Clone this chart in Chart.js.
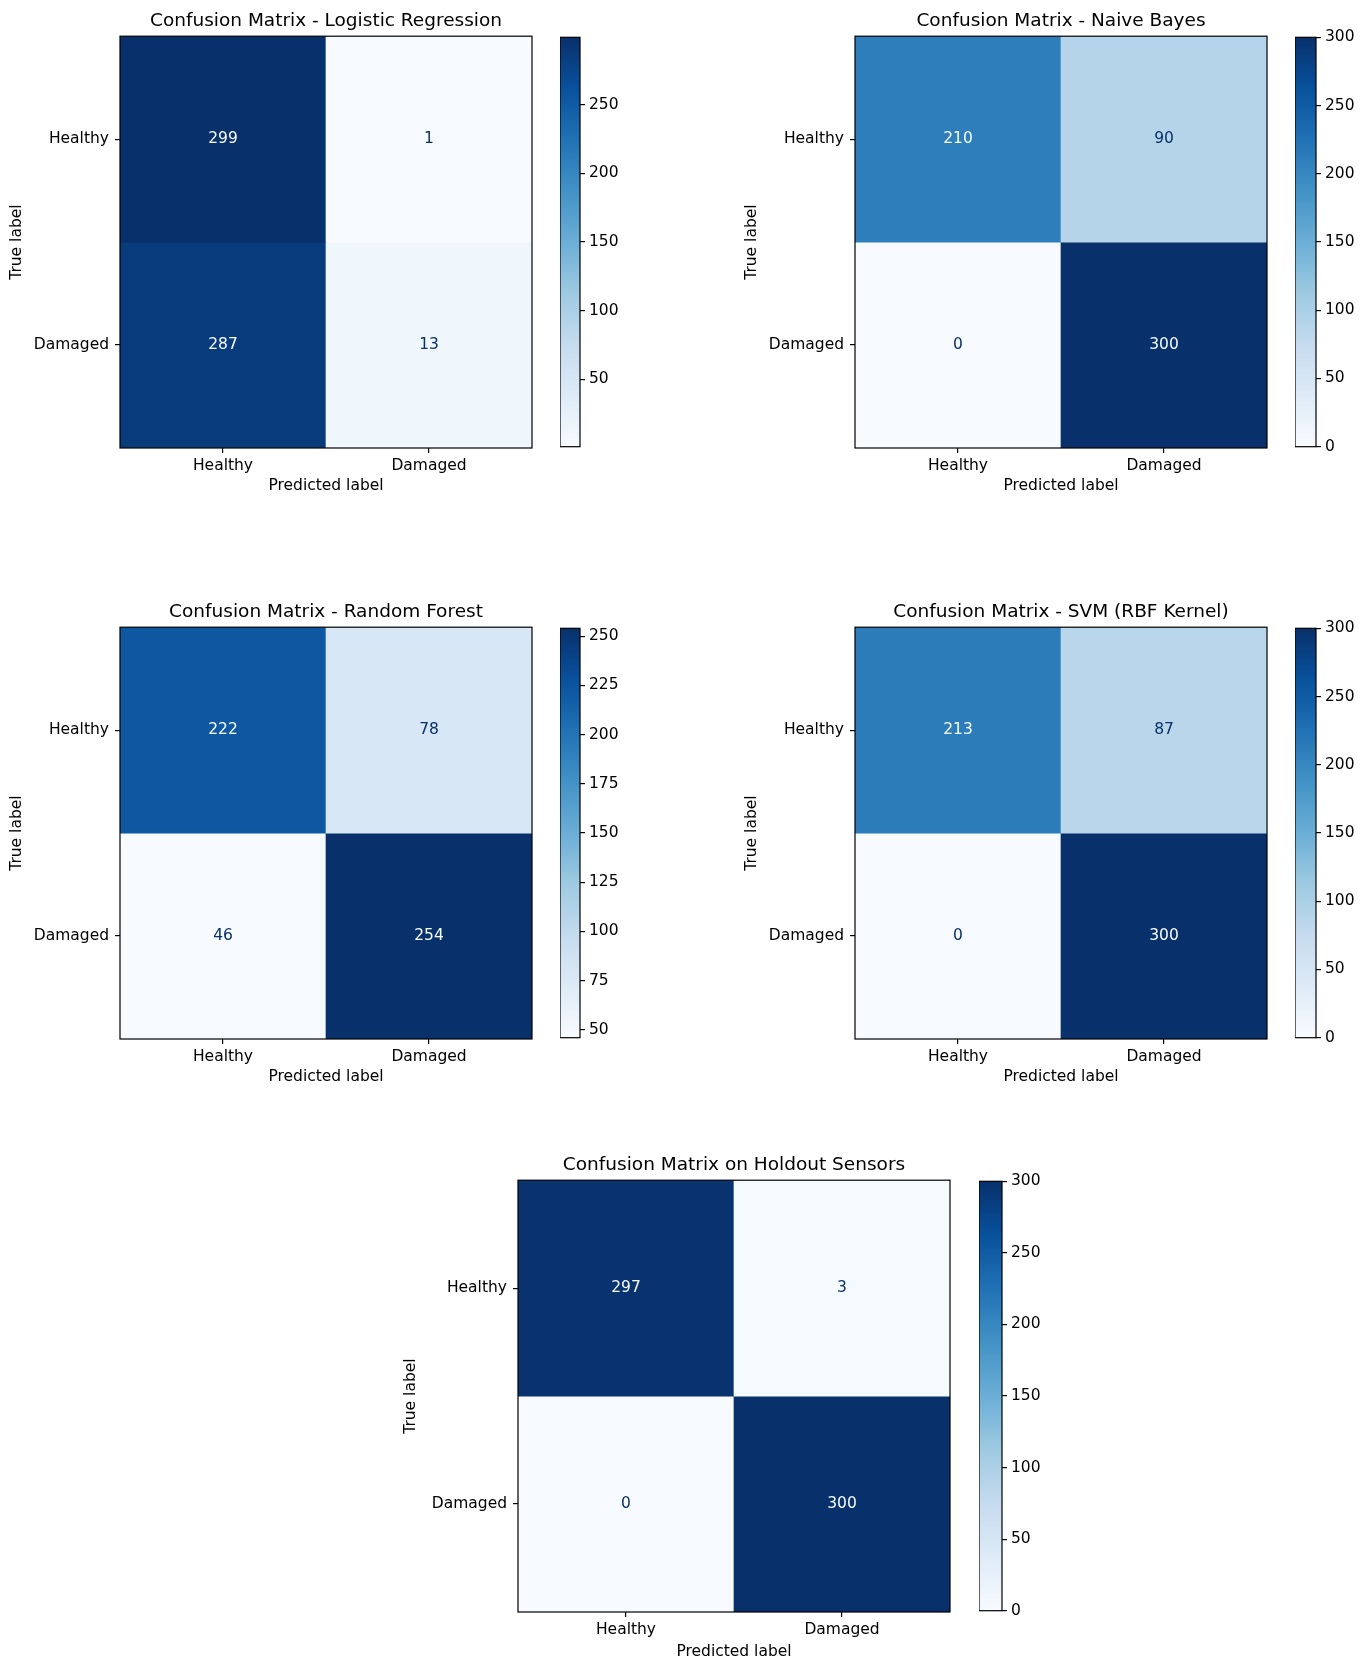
<!DOCTYPE html>
<html>
<head>
  <title>Confusion Matrices</title>
  <script src="https://cdn.jsdelivr.net/npm/chart.js"></script>
  <style>
    body { margin: 0; background: #fff; }
    #page { position: relative; width: 1362px; height: 1665px; }
    #page canvas { position: absolute; }
  </style>
</head>
<body>
  <div id="page"></div>

  <script>
    // axis categories
    const predLabels = ['Healthy', 'Damaged'];
    const trueLabels = ['Healthy', 'Damaged'];

    // confusion matrices, rows = true label, cols = predicted label
    const cmLogReg = [[299, 1], [287, 13]];
    const cmNaiveBayes = [[210, 90], [0, 300]];
    const cmForest = [[222, 78], [46, 254]];
    const cmSvm = [[213, 87], [0, 300]];
    const cmHoldout = [[297, 3], [0, 300]];

    // colorbar tick labels
    const cbTicksLogReg = [50, 100, 150, 200, 250];
    const cbTicksForest = [50, 75, 100, 125, 150, 175, 200, 225, 250];
    const cbTicksFull = [0, 50, 100, 150, 200, 250, 300];

    // matplotlib "Blues" colormap stops
    const blues = ['#f7fbff', '#deebf7', '#c6dbef', '#9ecae1', '#6baed6',
                   '#4292c6', '#2171b5', '#08519c', '#08306b'];

    Chart.defaults.font.family = "'DejaVu Sans', sans-serif";
    Chart.defaults.color = '#000';

    const panels = [
      { title: 'Confusion Matrix - Logistic Regression', cm: cmLogReg, cbTicks: cbTicksLogReg,
        L: 120, T: 36, S: 412, yW: 116, xH: 51, cbX: 560, cbW: 20 },
      { title: 'Confusion Matrix - Naive Bayes', cm: cmNaiveBayes, cbTicks: cbTicksFull,
        L: 855, T: 36, S: 412, yW: 116, xH: 51, cbX: 1295, cbW: 21 },
      { title: 'Confusion Matrix - Random Forest', cm: cmForest, cbTicks: cbTicksForest,
        L: 120, T: 627, S: 412, yW: 116, xH: 51, cbX: 560, cbW: 20 },
      { title: 'Confusion Matrix - SVM (RBF Kernel)', cm: cmSvm, cbTicks: cbTicksFull,
        L: 855, T: 627, S: 412, yW: 116, xH: 51, cbX: 1295, cbW: 21 },
      { title: 'Confusion Matrix on Holdout Sensors', cm: cmHoldout, cbTicks: cbTicksFull,
        L: 518, T: 1180, S: 432, yW: 120, xH: 53, cbX: 979, cbW: 23 }
    ];

    function hexToRgb(h) {
      const n = parseInt(h.slice(1), 16);
      return [(n >> 16) & 255, (n >> 8) & 255, n & 255];
    }

    function bluesAt(t) {
      t = Math.min(1, Math.max(0, t));
      const pos = t * (blues.length - 1);
      const i = Math.min(Math.floor(pos), blues.length - 2);
      const f = pos - i;
      const a = hexToRgb(blues[i]), b = hexToRgb(blues[i + 1]);
      const c = a.map((v, k) => Math.round(v + (b[k] - v) * f));
      return `rgb(${c[0]}, ${c[1]}, ${c[2]})`;
    }

    function makeCanvas(left, top, w, h) {
      const c = document.createElement('canvas');
      c.width = w;
      c.height = h;
      c.style.left = left + 'px';
      c.style.top = top + 'px';
      document.getElementById('page').appendChild(c);
      return c;
    }

    // writes the count in the middle of each cell
    const cellText = {
      id: 'cellText',
      afterDatasetsDraw(chart, args, opts) {
        const { ctx, scales: { x, y } } = chart;
        ctx.save();
        ctx.font = "15.5px 'DejaVu Sans', sans-serif";
        ctx.textAlign = 'center';
        ctx.textBaseline = 'middle';
        opts.cm.forEach((row, i) => {
          row.forEach((v, j) => {
            ctx.fillStyle = v < opts.thresh ? blues[8] : blues[0];
            ctx.fillText(String(v), x.getPixelForValue(j), y.getPixelForValue(i));
          });
        });
        ctx.restore();
      }
    };

    // box around the plot area, like matplotlib spines
    const frame = {
      id: 'frame',
      afterDraw(chart) {
        const { ctx, chartArea: a } = chart;
        ctx.save();
        ctx.strokeStyle = '#000';
        ctx.lineWidth = 1.2;
        ctx.strokeRect(a.left, a.top, a.right - a.left, a.bottom - a.top);
        ctx.restore();
      }
    };

    function tickGrid() {
      return { display: true, drawOnChartArea: false, offset: false, tickLength: 5, color: '#000', lineWidth: 1.2 };
    }

    function drawMatrix(p) {
      const flat = p.cm.flat();
      const vmin = Math.min(...flat);
      const vmax = Math.max(...flat);
      const thresh = (vmin + vmax) / 2;

      const canvas = makeCanvas(p.L - p.yW, p.T - 29, p.yW + p.S + 4, 29 + p.S + p.xH);
      new Chart(canvas, {
        type: 'bar',
        data: {
          labels: predLabels,
          datasets: trueLabels.map((t, i) => ({
            label: t,
            data: predLabels.map(() => [i - 0.5, i + 0.5]),
            backgroundColor: p.cm[i].map(v => bluesAt((v - vmin) / (vmax - vmin))),
            barPercentage: 1,
            categoryPercentage: 1,
            grouped: false,
            borderWidth: 0
          }))
        },
        options: {
          responsive: false,
          animation: false,
          events: [],
          layout: { padding: { left: 0, right: 4, top: 0, bottom: 0 } },
          plugins: {
            legend: { display: false },
            tooltip: { enabled: false },
            title: {
              display: true, text: p.title, fullSize: false, color: '#000',
              font: { size: 18.5, weight: 'normal' }, padding: { top: 3, bottom: 4 }
            },
            cellText: { cm: p.cm, thresh: thresh }
          },
          scales: {
            x: {
              grid: tickGrid(),
              border: { display: false },
              ticks: { font: { size: 15.5 }, padding: 4, maxRotation: 0 },
              title: { display: true, text: 'Predicted label', font: { size: 15.5 }, padding: 4 },
              afterFit: s => { s.height = p.xH; }
            },
            y: {
              type: 'linear', min: -0.5, max: 1.5, reverse: true,
              afterBuildTicks: s => { s.ticks = trueLabels.map((_, i) => ({ value: i })); },
              grid: tickGrid(),
              border: { display: false },
              ticks: { font: { size: 15.5 }, padding: 6, callback: v => trueLabels[v] },
              title: { display: true, text: 'True label', font: { size: 15.5 }, padding: 4 },
              afterFit: s => { s.width = p.yW; }
            }
          }
        },
        plugins: [cellText, frame]
      });

      // colorbar
      const cbCanvas = makeCanvas(p.cbX, p.T - 12, p.cbW + 50, p.S + 24);
      new Chart(cbCanvas, {
        type: 'bar',
        data: {
          labels: [''],
          datasets: [{
            data: [[vmin, vmax]],
            backgroundColor: c => {
              const area = c.chart.chartArea;
              if (!area) return blues[4];
              const g = c.chart.ctx.createLinearGradient(0, area.bottom, 0, area.top);
              blues.forEach((col, k) => g.addColorStop(k / (blues.length - 1), col));
              return g;
            },
            barPercentage: 1,
            categoryPercentage: 1,
            borderWidth: 0
          }]
        },
        options: {
          responsive: false,
          animation: false,
          events: [],
          layout: { padding: { left: 0, right: 0, top: 12, bottom: 12 } },
          plugins: { legend: { display: false }, tooltip: { enabled: false } },
          scales: {
            x: { display: false },
            y: {
              position: 'right', min: vmin, max: vmax,
              afterBuildTicks: s => { s.ticks = p.cbTicks.map(v => ({ value: v })); },
              grid: tickGrid(),
              border: { display: false },
              ticks: { font: { size: 15.5 }, padding: 4 },
              afterFit: s => { s.width = 50; }
            }
          }
        },
        plugins: [frame]
      });
    }

    panels.forEach(drawMatrix);
  </script>
</body>
</html>
